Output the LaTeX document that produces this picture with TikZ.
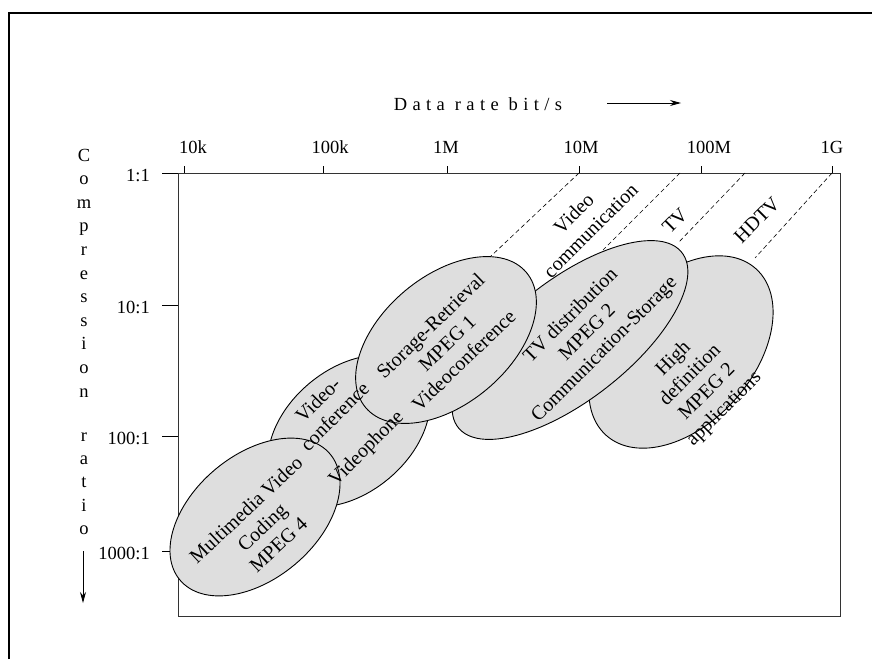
\documentclass[tikz,border=0pt]{standalone}
\usepackage{fontspec}
\setmainfont{Liberation Serif}
\usetikzlibrary{shapes.geometric,arrows.meta}

\begin{document}
\begin{tikzpicture}[x=1pt,y=-1pt,
  blob/.style={ellipse, draw=black, line width=0.9pt, fill=black!13, inner sep=0pt},
  txt/.style={font=\fontsize{20}{23.8}\selectfont, align=center, inner sep=0pt},
  axlab/.style={font=\fontsize{18.5}{22}\selectfont, inner sep=0pt},
  guide/.style={dash pattern=on 4.5pt off 3pt, line width=0.6pt},
  pointer/.style={-{Stealth[length=11pt,width=6pt]}, line width=0.9pt}]
\useasboundingbox (0,0) rectangle (872,659);

% outer frame, open to the right and bottom
\draw[line width=2pt] (9,659) -- (9,12.5) -- (872,12.5);

% plot area and ticks
\draw[line width=1pt, black!80] (178,173) rectangle (840,616);
\foreach \x in {184,323,447,579,701,832} \draw[line width=0.9pt] (\x,173) -- (\x,166);
\foreach \y in {173,305,436,551} \draw[line width=0.9pt] (162,\y) -- (178,\y);

% horizontal axis labels
\node[axlab] (k10)  at (193,147) {10k};
\node[axlab] (k100) at (330,147) {100k};
\node[axlab] (m1)   at (446,147) {1M};
\node[axlab] (m10)  at (581,147) {10M};
\node[axlab] (m100) at (709,147) {100M};
\node[axlab] (g1)   at (832,147) {1G};

% vertical axis labels
\node[axlab, anchor=east] (r1)    at (150,176) {1:1};
\node[axlab, anchor=east] (r10)   at (150,307) {10:1};
\node[axlab, anchor=east] (r100)  at (150,438) {100:1};
\node[axlab, anchor=east] (r1000) at (150,553) {1000:1};

% axis titles
\node[axlab] (xtitle) at (478,104) {\addfontfeature{LetterSpace=29}Data rate bit/s};
\coordinate (xa0) at (607,103);
\coordinate (xa1) at (681,103);
\draw[pointer] (xa0) -- (xa1);

\foreach \ch [count=\i from 0] in {C,o,m,p,r,e,s,s,i,o,n}
  \node[axlab, anchor=base] (ya\i) at (84,{161+23.6*\i}) {\ch};
\foreach \ch [count=\i from 0] in {r,a,t,i,o}
  \node[axlab, anchor=base] (yb\i) at (84,{441+23.4*\i}) {\ch};
\coordinate (yarr0) at (83,551);
\coordinate (yarr1) at (83,603);
\draw[pointer] (yarr0) -- (yarr1);

% application regions
\node[blob, minimum width=224pt, minimum height=144pt, rotate=48] (e5) at (681,352) {};
\node[blob, minimum width=284pt, minimum height=120pt, rotate=38] (e4) at (570,340) {};
\node[blob, minimum width=184pt, minimum height=124pt, rotate=40] (e2) at (349,431) {};
\node[blob, minimum width=210pt, minimum height=128pt, rotate=40] (e3) at (446,340) {};
\node[blob, minimum width=196pt, minimum height=124pt, rotate=40] (e1) at (255,517) {};

% guide lines from the rate axis
\coordinate (ga) at (579,173);  \coordinate (ha) at (490,257);
\coordinate (gb) at (680,173);  \coordinate (hb) at (603,250);
\coordinate (gc) at (745,173);  \coordinate (hc) at (678,243);
\coordinate (gd) at (832,173);  \coordinate (hd) at (755,258);
\draw[guide] (ga) -- (ha);
\draw[guide] (gb) -- (hb);
\draw[guide] (gc) -- (hc);
\draw[guide] (gd) -- (hd);

\node[txt, rotate=45] (lvc) at (582,222) {Video\\communication};
\node[txt, rotate=45] (ltv) at (675,221) {TV};
\node[txt, rotate=45] (lhd) at (757,220) {HDTV};

% region texts
\node[txt, rotate=43] (t1) at (262,527) {Multimedia Video\\Coding\\MPEG 4};
\node[txt, rotate=45] (t2) at (343,425) {Video-\\conference\\[20pt]Videophone};
\node[txt, rotate=44] (t3) at (447,343) {Storage-Retrieval\\MPEG 1\\Videoconference};
\node[txt, rotate=45] (t4) at (588,333) {TV distribution\\MPEG 2\\Communication-Storage};
\node[txt, rotate=45] (t5) at (699,384) {High\\definition\\MPEG 2\\applications};
\end{tikzpicture}
\end{document}
